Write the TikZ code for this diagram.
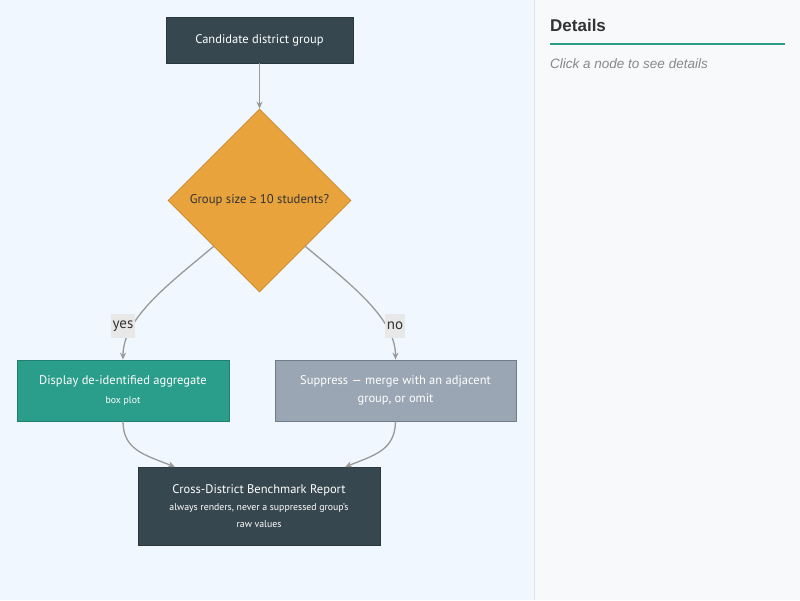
\documentclass[tikz,border=0pt]{standalone}
\usepackage{fontspec}
\setmainfont{PT Sans}
\newfontfamily\detfont{Liberation Sans}
\usetikzlibrary{shapes.geometric,arrows.meta}
\definecolor{leftbg}{HTML}{F0F7FE}
\definecolor{rightbg}{HTML}{F7F9FB}
\definecolor{panelline}{HTML}{DCE4EC}
\definecolor{darkslate}{HTML}{36474F}
\definecolor{darkborder}{HTML}{2A383E}
\definecolor{orangefill}{HTML}{E8A33C}
\definecolor{orangeborder}{HTML}{C8882A}
\definecolor{tealfill}{HTML}{2A9D8B}
\definecolor{tealborder}{HTML}{21806F}
\definecolor{grayfill}{HTML}{9AA6B3}
\definecolor{grayborder}{HTML}{6F7C89}
\definecolor{edgecol}{HTML}{999999}
\definecolor{labelbg}{HTML}{E8E8E8}
\definecolor{txtdark}{HTML}{333333}
\definecolor{txtgray}{HTML}{888888}
\definecolor{accent}{HTML}{2A9D8B}
\newcommand\subtxt[1]{{\fontsize{9.8}{13}\selectfont #1}}
\tikzset{
  box/.style={draw, line width=0.8pt, inner sep=0pt, align=center, text=white, font=\fontsize{12.5}{18}\selectfont},
  decision/.style={diamond, draw=orangeborder, fill=orangefill, line width=0.8pt, inner sep=0pt, aspect=1, minimum width=183pt, minimum height=183pt, text=txtdark, font=\fontsize{12.7}{15}\selectfont},
  flow/.style={draw=edgecol, line width=1.3pt, -{Stealth[length=7pt,width=6pt]}},
  elabel/.style={fill=labelbg, inner sep=1.5pt, minimum height=24pt, text=txtdark, font=\fontsize{15}{17}\selectfont}
}
\begin{document}
\begin{tikzpicture}[x=1pt,y=-1pt]
\useasboundingbox (0,0) rectangle (800,600);
\fill[leftbg] (0,0) rectangle (534,600);
\fill[rightbg] (534,0) rectangle (800,600);
\draw[panelline, line width=1pt] (534,0) -- (534,600);

\node[box, draw=darkborder, fill=darkslate, minimum width=187pt, minimum height=46pt] (a) at (259.5,40) {Candidate district group};
\node[decision] (d) at (259.5,200.5) {Group size {\detfont\fontsize{12}{15}\selectfont ≥} 10 students?};
\node[box, draw=tealborder, fill=tealfill, minimum width=212pt, minimum height=61pt] (y) at (123,390.5)
  {Display de-identified aggregate\\[1pt]\subtxt{box plot}};
\node[box, draw=grayborder, fill=grayfill, minimum width=241pt, minimum height=61pt] (n) at (395.5,390.5)
  {Suppress — merge with an adjacent\\group, or omit};
\node[box, draw=darkborder, fill=darkslate, minimum width=242pt, minimum height=78pt] (r) at (259,506)
  {Cross-District Benchmark Report\\[-1pt]\subtxt{always renders, never a suppressed group's}\\[-1pt]\subtxt{raw values}};

\coordinate (yl) at (123,326);
\coordinate (nl) at (395,326);
\coordinate (rl) at (175,467);
\coordinate (rr) at (345,467);

\draw[flow] (a.south) -- (d.north);
\draw[flow] (d.south west) .. controls (170,283) and (123,318) .. (y.north);
\draw[flow] (d.south east) .. controls (349,283) and (395.5,318) .. (n.north);
\node[elabel] (ylab) at (yl) {yes};
\node[elabel] (nlab) at (nl) {no};

\draw[flow] (y.south) .. controls (123,450) and (145,455) .. (rl);
\draw[flow] (n.south) .. controls (395,450) and (375,455) .. (rr);

\node[anchor=west, inner sep=0pt, font=\detfont\bfseries\fontsize{17}{20}\selectfont, text=txtdark] (dt) at (550,25) {Details};
\draw[accent, line width=2pt] (550,44) -- (785,44);
\node[anchor=west, inner sep=0pt, font=\detfont\itshape\fontsize{13.5}{16}\selectfont, text=txtgray] (ck) at (550,64) {Click a node to see details};
\end{tikzpicture}
\end{document}
